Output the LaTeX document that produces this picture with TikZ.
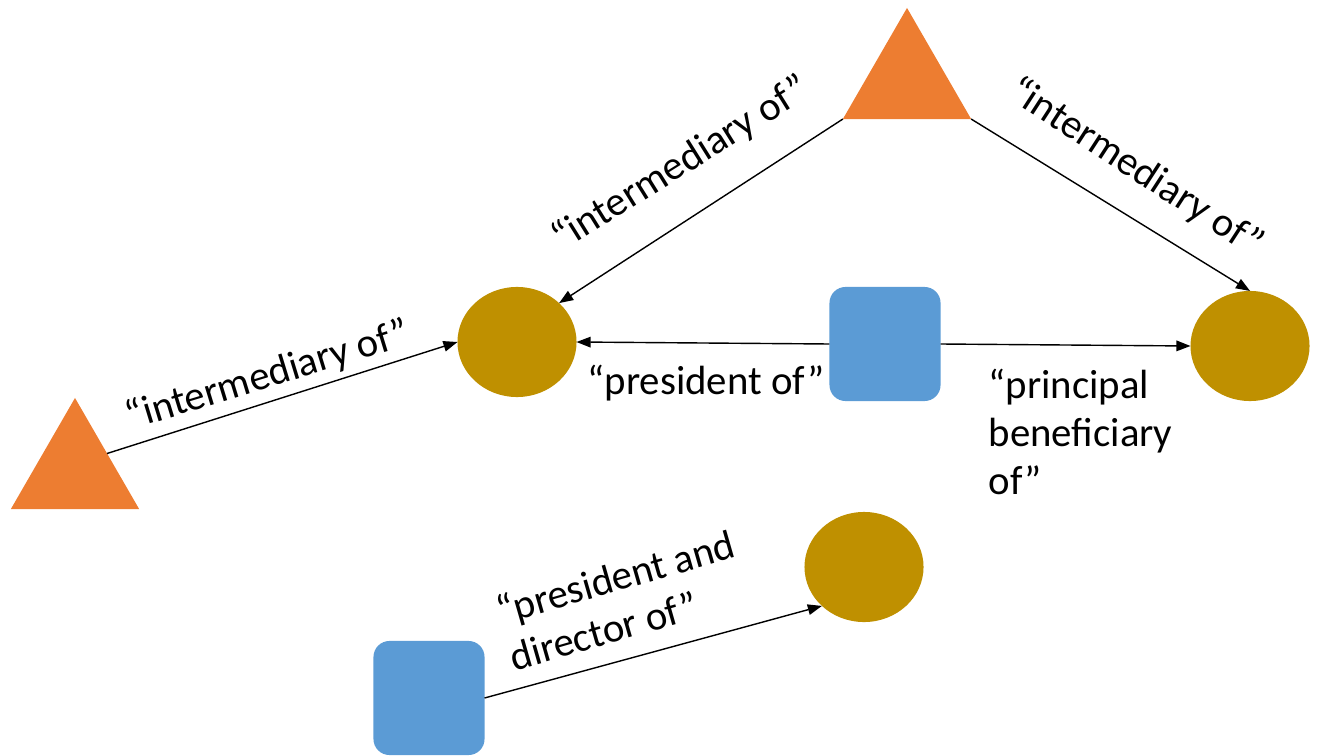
\documentclass[tikz,border=0pt]{standalone}
\usepackage{fontspec}
\setmainfont{Carlito}
\usetikzlibrary{shapes.geometric,arrows.meta}

\definecolor{triorange}{HTML}{ED7D31}
\definecolor{entgold}{HTML}{BF9000}
\definecolor{persblue}{HTML}{5B9BD5}

\begin{document}
\begin{tikzpicture}[x=0.01cm,y=-0.01cm,
    tri/.style={regular polygon,regular polygon sides=3,fill=triorange,minimum size=1.48cm,inner sep=0pt,outer sep=0pt},
    ent/.style={ellipse,fill=entgold,minimum width=1.19cm,minimum height=1.1cm,inner sep=0pt,outer sep=0pt},
    pers/.style={rectangle,rounded corners=0.16cm,fill=persblue,minimum width=1.11cm,minimum height=1.14cm,inner sep=0pt,outer sep=0pt},
    rel/.style={-{Triangle[length=4pt,width=3pt]},thin},
    lbl/.style={font=\fontsize{11.6}{13.7}\selectfont,inner sep=0pt}]

    \useasboundingbox (0,0) rectangle (1319,755);

    % intermediaries
    \node[tri] (triTop) at (907,82) {};
    \node[tri] (triLeft) at (75,472) {};

    % entities
    \node[ent] (entA) at (517,342) {};
    \node[ent] (entB) at (1250,346) {};
    \node[ent] (entC) at (864,567) {};

    % officers
    \node[pers] (persA) at (885,344) {};
    \node[pers] (persB) at (429,698) {};

    \draw[rel] (triTop.corner 2) -- (entA.north east);
    \draw[rel] (triTop.corner 3) -- (entB.north);
    \draw[rel] (triLeft.side 3) -- (entA.west);
    \draw[rel] (persA.west) -- (entA.east);
    \draw[rel] (persA.east) -- (entB.west);
    \draw[rel] (persB.east) -- (entC.south west);

    \node[lbl,rotate=32] (lblTop) at (681,164) {“intermediary of”};
    \node[lbl,rotate=-33] (lblRight) at (1136,168) {“intermediary of”};
    \node[lbl,rotate=17] (lblLeft) at (268,376) {“intermediary of”};
    \node[lbl] (lblPres) at (706,383) {“president of”};
    \node[lbl,align=left,anchor=north west] (lblBen) at (988,368) {“principal\\beneficiary\\of”};
    \node[lbl,align=left,rotate=16] (lblDir) at (622,600) {“president and\\director of”};

\end{tikzpicture}
\end{document}
